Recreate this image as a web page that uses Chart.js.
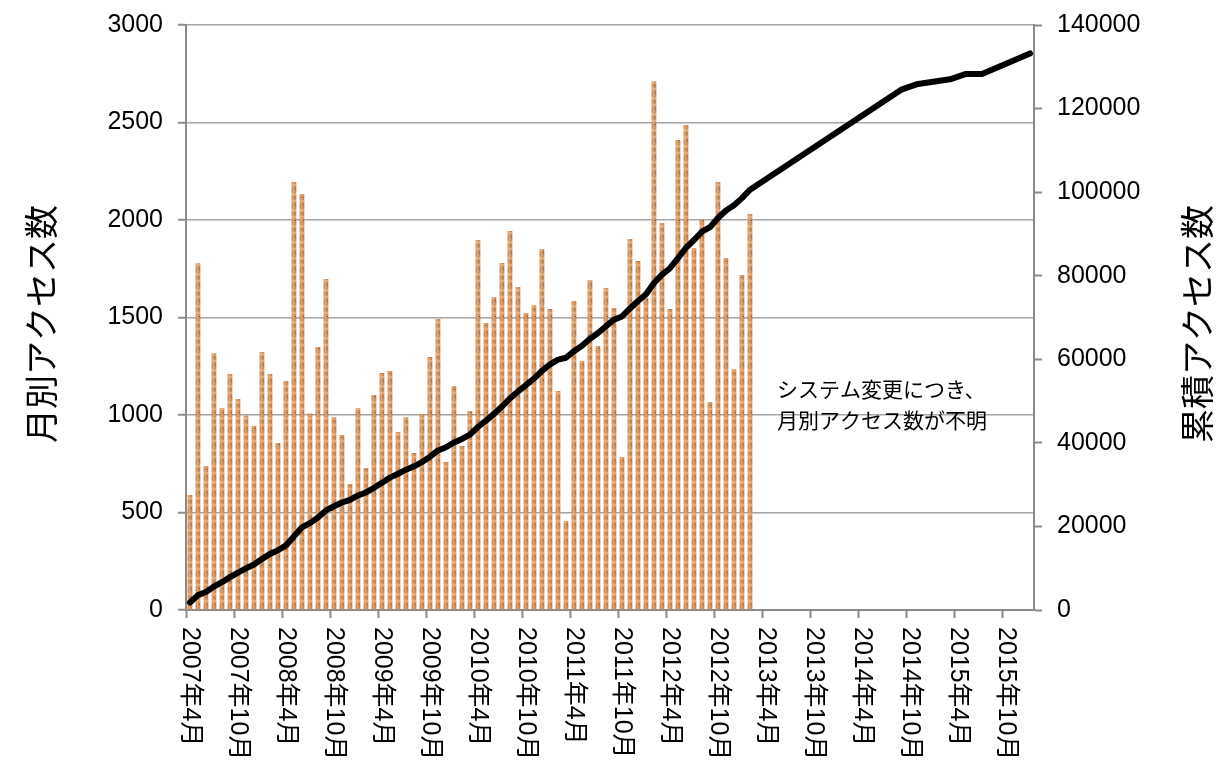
<!DOCTYPE html>
<html lang="ja">
<head>
<meta charset="utf-8">
<script src="https://cdn.jsdelivr.net/npm/chart.js@4.4.1/dist/chart.umd.min.js"></script>
<style>
  html, body { margin: 0; padding: 0; background: #fff; }
  canvas { display: block; }
</style>
</head>
<body>
<canvas id="access-chart" width="1226" height="769"></canvas>
<script>
const tickLabels = [
  '2007年4月', '2007年10月', '2008年4月', '2008年10月', '2009年4月', '2009年10月',
  '2010年4月', '2010年10月', '2011年4月', '2011年10月', '2012年4月', '2012年10月',
  '2013年4月', '2013年10月', '2014年4月', '2014年10月', '2015年4月', '2015年10月'
];

// 月別アクセス数 2007年4月 - 2013年2月
const monthlyAccess = [
  590, 1778, 738, 1318, 1036, 1210, 1082, 998, 944, 1323, 1210, 856,
  1174, 2195, 2133, 1008, 1349, 1697, 990, 897, 646, 1036, 728, 1103,
  1215, 1226, 913, 990, 805, 1005, 1297, 1492, 759, 1149, 841, 1021,
  1897, 1472, 1605, 1779, 1944, 1656, 1523, 1564, 1851, 1543, 1123, 456,
  1585, 1277, 1692, 1354, 1651, 1549, 785, 1903, 1790, 1600, 2713, 1985,
  1544, 2410, 2487, 1856, 2000, 1067, 2195, 1805, 1236, 1718, 2031
];

// 累積アクセス数 2007年4月 - 2013年2月
const cumulativeAccess = [
  1790, 3568, 4306, 5624, 6660, 7870, 8952, 9950, 10894, 12217, 13427, 14283,
  15457, 17652, 19785, 20793, 22142, 23839, 24829, 25726, 26372, 27408, 28136, 29239,
  30454, 31680, 32593, 33583, 34388, 35393, 36690, 38182, 38941, 40090, 40931, 41952,
  43849, 45321, 46926, 48705, 50649, 52305, 53828, 55392, 57243, 58786, 59909, 60365,
  61950, 63227, 64919, 66273, 67924, 69473, 70258, 72161, 73951, 75551, 78264, 80249,
  81793, 84203, 86690, 88546, 90546, 91613, 93808, 95613, 96849, 98567, 100598
];

// システム変更後の累積値
const laterMonths = ['2014年9月', '2014年11月', '2015年3月', '2015年5月', '2015年7月', '2016年1月'];
const laterTotals = [124600, 125900, 127000, 128300, 128300, 133200];

const noteLines = ['システム変更につき、', '月別アクセス数が不明'];
const axisTitles = ['月別アクセス数', '累積アクセス数'];

const FONT = '"Liberation Sans", "Noto Sans CJK JP", sans-serif';
const AXIS_GRAY = '#8c8c8c';
const GRID_GRAY = '#a6a6a6';

const months = [];
for (let y = 2007, m = 4; !(y === 2016 && m === 2); ) {
  months.push(`${y}年${m}月`);
  m++;
  if (m > 12) { m = 1; y++; }
}

const lineData = months.map((_, i) => i < cumulativeAccess.length ? cumulativeAccess[i] : null);
laterMonths.forEach((label, k) => { lineData[months.indexOf(label)] = laterTotals[k]; });

const canvas = document.getElementById('access-chart');

// 木目風のテクスチャ
function makeBarPattern() {
  const tile = document.createElement('canvas');
  tile.width = 4;
  tile.height = 16;
  const t = tile.getContext('2d');
  const cols = ['#d89a69', '#e2a575', '#d4945f', '#c98955'];
  cols.forEach((c, x) => { t.fillStyle = c; t.fillRect(x, 0, 1, 16); });
  t.fillStyle = 'rgba(240, 190, 145, 0.55)';
  t.fillRect(0, 1, 4, 2);
  t.fillRect(0, 8, 4, 2);
  t.fillStyle = 'rgba(120, 70, 35, 0.55)';
  t.fillRect(1, 5, 2, 1);
  t.fillRect(2, 12, 2, 1);
  t.fillRect(0, 14, 1, 1);
  return canvas.getContext('2d').createPattern(tile, 'repeat');
}

// 縦軸の上下余白をなくしてプロット領域を固定
function fixVertical(width) {
  return s => {
    s.width = width;
    s.paddingTop = 0;
    s.paddingBottom = 0;
  };
}

const textPlugin = {
  id: 'textPlugin',
  afterDraw(chart) {
    const ctx = chart.ctx;
    const xScale = chart.scales.x;
    ctx.save();
    ctx.fillStyle = '#000';

    // x軸ラベル（縦書き方向）
    ctx.font = `25px ${FONT}`;
    ctx.textAlign = 'left';
    ctx.textBaseline = 'middle';
    tickLabels.forEach((label, k) => {
      ctx.save();
      ctx.translate(xScale.getPixelForValue(k * 6), xScale.top + 17);
      ctx.rotate(Math.PI / 2);
      ctx.fillText(label, 0, 0);
      ctx.restore();
    });

    // 軸タイトル
    ctx.font = `34px ${FONT}`;
    ctx.textAlign = 'center';
    [45, 1201].forEach((px, k) => {
      ctx.save();
      ctx.translate(px, 324);
      ctx.rotate(-Math.PI / 2);
      ctx.fillText(axisTitles[k], 0, 0);
      ctx.restore();
    });

    // 注記
    ctx.font = `21px ${FONT}`;
    ctx.textAlign = 'left';
    noteLines.forEach((line, i) => ctx.fillText(line, 777, 391 + i * 31));
    ctx.restore();
  }
};

const chart = new Chart(canvas, {
  type: 'bar',
  data: {
    labels: months,
    datasets: [
      {
        type: 'line',
        data: lineData,
        yAxisID: 'y1',
        borderColor: '#000',
        borderWidth: 6,
        borderJoinStyle: 'round',
        borderCapStyle: 'round',
        pointRadius: 0,
        tension: 0,
        spanGaps: true,
        order: 1
      },
      {
        type: 'bar',
        data: monthlyAccess,
        yAxisID: 'y',
        backgroundColor: makeBarPattern(),
        borderWidth: 0,
        barPercentage: 0.6,
        categoryPercentage: 1,
        order: 2
      }
    ]
  },
  options: {
    responsive: false,
    animation: false,
    devicePixelRatio: 1,
    layout: { padding: { top: 25, left: 0, right: 0, bottom: 0 } },
    plugins: {
      legend: { display: false },
      tooltip: { enabled: false }
    },
    scales: {
      x: {
        type: 'category',
        offset: true,
        grid: {
          offset: true,
          drawOnChartArea: false,
          tickLength: 8,
          tickWidth: 2,
          tickColor: c => c.index % 6 === 0 ? AXIS_GRAY : 'transparent'
        },
        border: { color: AXIS_GRAY, width: 2 },
        ticks: { display: false, autoSkip: false },
        afterFit: s => {
          s.height = 159;
          s.paddingLeft = 0;
          s.paddingRight = 0;
        }
      },
      y: {
        position: 'left',
        min: 0,
        max: 3000,
        ticks: {
          stepSize: 500,
          padding: 15,
          color: '#000',
          font: { family: FONT, size: 25 },
          callback: v => String(v)
        },
        grid: { color: GRID_GRAY, lineWidth: 1.5, tickLength: 8, tickColor: AXIS_GRAY, tickWidth: 2 },
        border: { color: AXIS_GRAY, width: 2 },
        afterFit: fixVertical(186)
      },
      y1: {
        position: 'right',
        min: 0,
        max: 140000,
        ticks: {
          stepSize: 20000,
          padding: 15,
          color: '#000',
          font: { family: FONT, size: 25 },
          callback: v => String(v)
        },
        grid: { drawOnChartArea: false, tickLength: 8, tickColor: AXIS_GRAY, tickWidth: 2 },
        border: { color: AXIS_GRAY, width: 2 },
        afterFit: fixVertical(192)
      }
    }
  },
  plugins: [textPlugin]
});
</script>
</body>
</html>
